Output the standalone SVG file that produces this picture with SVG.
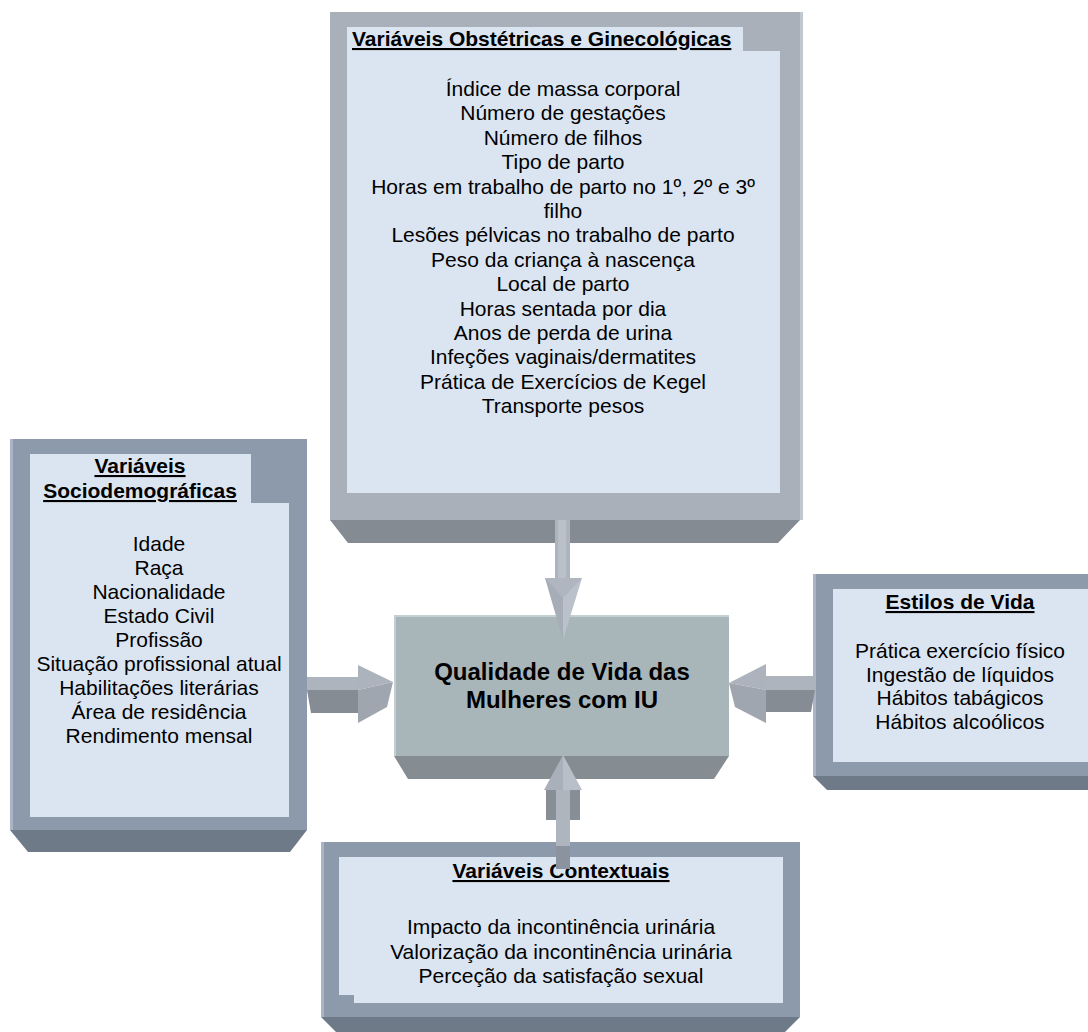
<svg xmlns="http://www.w3.org/2000/svg" width="1088" height="1032" viewBox="0 0 1088 1032">
<style>
.t{font-family:"Liberation Sans",Arial,sans-serif;font-size:21px;fill:#000;text-anchor:middle}
.h{font-family:"Liberation Sans",Arial,sans-serif;font-size:21px;font-weight:bold;fill:#000;text-decoration:underline}
.c{font-family:"Liberation Sans",Arial,sans-serif;font-size:24px;font-weight:bold;fill:#000;text-anchor:middle}
.panel{fill:#DBE5F1}
.frameA{fill:#A9B0B9}
.bevA{fill:#848B93}
.frameB{fill:#8D9AAC}
.bevB{fill:#6F7A88}
.hl{fill:#A9B5C6}
</style>
<rect width="1088" height="1032" fill="#fff"/>

<g id="node-obstetricas">
<rect class="frameA" x="330" y="12" width="470" height="508"/>
<rect x="800" y="12" width="3" height="508" fill="#C2C8CF"/>
<polygon class="bevA" points="330,520 800,520 778,543 348,543"/>
<path class="panel" d="M347,27 H743 V51 H780 V493 H347 Z"/>
<text class="h" x="352" y="46">Variáveis Obstétricas e Ginecológicas</text>
<text class="t" x="563" y="96">Índice de massa corporal</text>
<text class="t" x="563" y="120.4">Número de gestações</text>
<text class="t" x="563" y="144.8">Número de filhos</text>
<text class="t" x="563" y="169.2">Tipo de parto</text>
<text class="t" x="563" y="193.6">Horas em trabalho de parto no 1º, 2º e 3º</text>
<text class="t" x="563" y="218">filho</text>
<text class="t" x="563" y="242.4">Lesões pélvicas no trabalho de parto</text>
<text class="t" x="563" y="266.8">Peso da criança à nascença</text>
<text class="t" x="563" y="291.2">Local de parto</text>
<text class="t" x="563" y="315.6">Horas sentada por dia</text>
<text class="t" x="563" y="340">Anos de perda de urina</text>
<text class="t" x="563" y="364.4">Infeções vaginais/dermatites</text>
<text class="t" x="563" y="388.8">Prática de Exercícios de Kegel</text>
<text class="t" x="563" y="413.2">Transporte pesos</text>
</g>

<g id="node-sociodemograficas">
<rect class="frameB" x="10" y="439" width="297" height="391"/>
<rect class="hl" x="10" y="439" width="3" height="391"/>
<polygon class="bevB" points="10,830 307,830 290,852 28,852"/>
<path class="panel" d="M30,454 H251 V503 H289 V817 H30 Z"/>
<text class="h" x="140" y="473" text-anchor="middle">Variáveis</text>
<text class="h" x="140" y="498" text-anchor="middle">Sociodemográficas</text>
<text class="t" x="159" y="551">Idade</text>
<text class="t" x="159" y="575">Raça</text>
<text class="t" x="159" y="599">Nacionalidade</text>
<text class="t" x="159" y="623">Estado Civil</text>
<text class="t" x="159" y="647">Profissão</text>
<text class="t" x="159" y="671">Situação profissional atual</text>
<text class="t" x="159" y="695">Habilitações literárias</text>
<text class="t" x="159" y="719">Área de residência</text>
<text class="t" x="159" y="743">Rendimento mensal</text>
</g>

<g id="node-estilos">
<rect class="frameB" x="813" y="574" width="275" height="202"/>
<rect class="hl" x="813" y="574" width="3" height="202"/>
<polygon class="bevB" points="813,776 1088,776 1088,790 827,790"/>
<rect class="panel" x="833" y="589" width="255" height="173"/>
<text class="h" x="960" y="609" text-anchor="middle">Estilos de Vida</text>
<text class="t" x="960" y="658">Prática exercício físico</text>
<text class="t" x="960" y="682">Ingestão de líquidos</text>
<text class="t" x="960" y="705">Hábitos tabágicos</text>
<text class="t" x="960" y="729">Hábitos alcoólicos</text>
</g>

<g id="node-contextuais">
<rect class="frameB" x="321" y="842" width="479" height="175"/>
<rect class="hl" x="321" y="842" width="3" height="175"/>
<polygon class="bevB" points="321,1017 800,1017 785,1032 336,1032"/>
<path class="panel" d="M339,857 H783 V1003 H354 V995 H339 Z"/>
<text class="h" x="561" y="878" text-anchor="middle">Variáveis Contextuais</text>
<text class="t" x="561" y="934">Impacto da incontinência urinária</text>
<text class="t" x="561" y="959">Valorização da incontinência urinária</text>
<text class="t" x="561" y="983">Perceção da satisfação sexual</text>
</g>

<g id="node-qualidade">
<rect x="394" y="615" width="335" height="141" fill="#A8B5B9"/>
<rect x="394" y="615" width="335" height="2" fill="#C4CFD2"/>
<rect x="394" y="615" width="2" height="141" fill="#C4CFD2"/>
<polygon points="394,756 729,756 714,779 408,779" fill="#858D93"/>
<text class="c" x="562" y="680">Qualidade de Vida das</text>
<text class="c" x="562" y="708">Mulheres com IU</text>
</g>

<g id="connectors">
<rect x="555" y="520" width="15" height="60" fill="#ADB4BD"/>
<rect x="558" y="520" width="8" height="60" fill="#B9C0C8"/>
<polygon points="545,578 563,578 563,640" fill="#A6ADB6"/>
<polygon points="563,578 582,578 563,640" fill="#BAC1CA"/>
<polygon points="545,578 563,598 582,578" fill="#AFB6BF"/>
<polygon points="307,677 358,677 358,690 307,690" fill="#AEB4BD"/>
<polygon points="307,690 358,690 358,713 311,713" fill="#858C94"/>
<polygon points="358,665 393,682 358,690" fill="#ADB3BC"/>
<polygon points="358,690 393,682 387,707 358,723" fill="#A0A6AF"/>
<polygon points="765,676 815,676 815,690 765,690" fill="#AEB4BD"/>
<polygon points="765,690 815,690 811,712 765,712" fill="#858C94"/>
<polygon points="766,664 729,683 766,690" fill="#ADB3BC"/>
<polygon points="766,690 729,683 735,707 766,723" fill="#A0A6AF"/>
<rect x="546" y="788" width="34" height="32" fill="#878E96"/>
<rect x="556" y="788" width="14" height="58" fill="#AEB5BE"/>
<rect x="556" y="846" width="14" height="23" fill="#8A939E"/>
<polygon points="544,790 563,755 563,790" fill="#A9B0B9"/>
<polygon points="563,755 582,790 563,790" fill="#B8BFC8"/>
</g>
</svg>
